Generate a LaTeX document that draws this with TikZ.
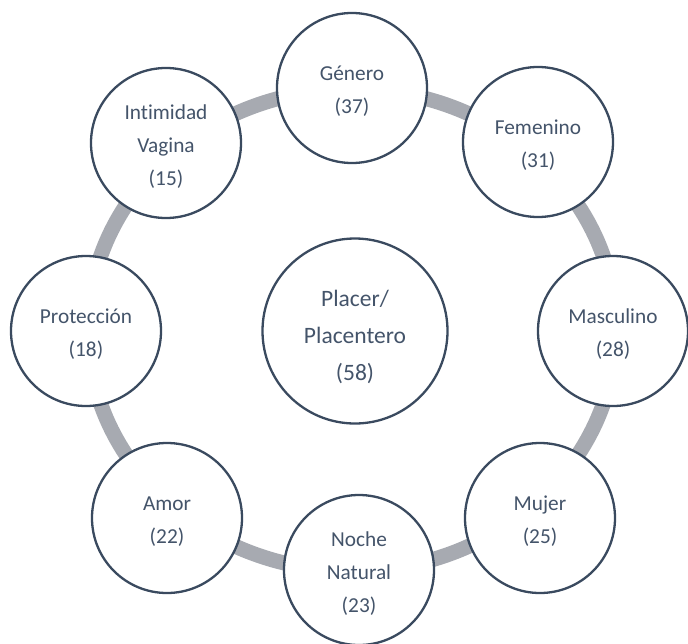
\documentclass[tikz,border=0pt]{standalone}
\usepackage{fontspec}
\setmainfont{Carlito}[Ligatures=NoCommon]
\definecolor{ringgray}{HTML}{A7AAB1}
\definecolor{edgeblue}{HTML}{3A4A5F}
\definecolor{textblue}{HTML}{44546A}
\begin{document}
\begin{tikzpicture}[x=1pt,y=-1pt,
  topic/.style={circle,draw=edgeblue,line width=2.3pt,fill=white,
    minimum size=150pt,inner sep=0pt},
  hub/.style={topic,minimum size=185pt},
  topictext/.style={align=center,text=textblue,inner sep=0pt,yshift=-3.5pt,
    font=\fontsize{21.3}{33}\selectfont},
  hubtext/.style={topictext,yshift=-2.5pt,font=\fontsize{23.5}{37}\selectfont},
  ring/.style={draw=ringgray,line width=15pt}]
\useasboundingbox (0,0) rectangle (688,643);
% connecting ring behind the topics
\draw[ring] (352,330) ellipse [x radius=264, y radius=241];
% central topic
\node[hub] (placer) at (355,331) {};
\node[hubtext] (placer-t) at (placer) {Placer/\\Placentero\\(58)};
% surrounding topics
\node[topic] (genero)     at (352,88)  {};
\node[topic] (femenino)   at (538,142) {};
\node[topic] (masculino)  at (613,331) {};
\node[topic] (mujer)      at (540,518) {};
\node[topic] (noche)      at (359,570) {};
\node[topic] (amor)       at (167,518) {};
\node[topic] (proteccion) at (86,331)  {};
\node[topic] (intimidad)  at (166,143) {};
% their labels
\node[topictext] (genero-t)     at (genero)     {Género\\(37)};
\node[topictext] (femenino-t)   at (femenino)   {Femenino\\(31)};
\node[topictext] (masculino-t)  at (masculino)  {Masculino\\(28)};
\node[topictext] (mujer-t)      at (mujer)      {Mujer\\(25)};
\node[topictext] (noche-t)      at (noche)      {Noche\\Natural\\(23)};
\node[topictext] (amor-t)       at (amor)       {Amor\\(22)};
\node[topictext] (proteccion-t) at (proteccion) {Protección\\(18)};
\node[topictext] (intimidad-t)  at (intimidad)  {Intimidad\\Vagina\\(15)};
\end{tikzpicture}
\end{document}
